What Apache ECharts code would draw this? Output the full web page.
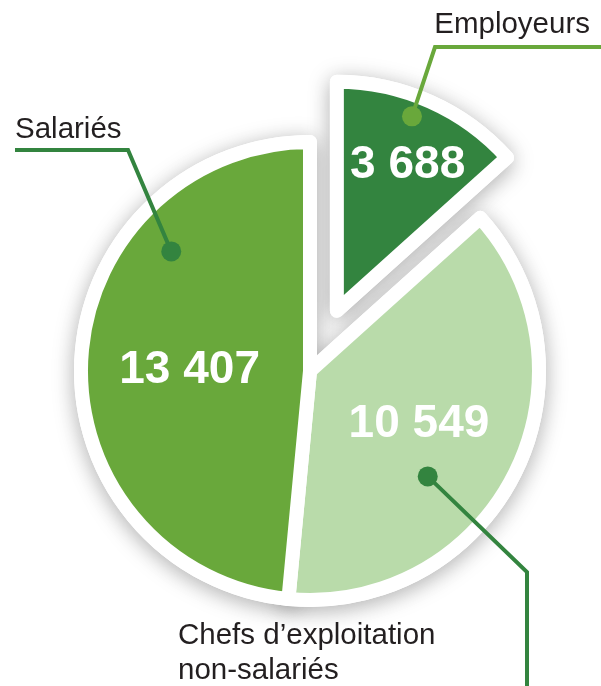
<!DOCTYPE html>
<html>
<head>
<meta charset="utf-8">
<script src="https://cdn.jsdelivr.net/npm/echarts@6/dist/echarts.min.js"></script>
<style>
  html, body { margin: 0; padding: 0; background: #fff; }
  #chart { width: 601px; height: 686px; }
</style>
</head>
<body>
<div id="chart"></div>
<script>
// data
const categories = ['Employeurs', 'Chefs d’exploitation\nnon-salariés', 'Salariés'];
const values = [3688, 10549, 13407];
const valueLabels = ['3 688', '10 549', '13 407'];

// styling
const colors = ['#33843f', '#b9dbaa', '#69a83b'];
const lineColors = ['#69a83b', '#33843f', '#33843f'];
const CX = 310, CY = 371, R = 229, OFFSET = 66;
const FONT = '"Liberation Sans", Arial, Helvetica, sans-serif';
const valueOffsets = [[23, -38], [4, 0], [-3, 5]];

// callouts: dot at fraction t of the slice sweep and k of the radius
const callouts = [
  { t: 0.44, k: 0.91, elbow: [435, 47], end: [601, 47], text: [590, 25], align: 'right', va: 'middle' },
  { t: 0.61, k: 0.69, elbow: [527, 572], end: [527, 690], text: [178, 618], align: 'left', va: 'top' },
  { t: 0.718, k: 0.80, elbow: [128, 150], end: [15, 150], text: [15, 130], align: 'left', va: 'middle' }
];

const chart = echarts.init(document.getElementById('chart'));

const total = values.reduce((a, b) => a + b, 0);
const rad = d => d * Math.PI / 180;

// slice geometry (degrees clockwise from 12 o'clock), same as the pie below
let acc = 0;
const slices = values.map((v, i) => {
  const sweep = v / total * 360;
  const s = { a0: acc, sweep: sweep, mid: acc + sweep / 2 };
  acc += sweep;
  return s;
});

const graphics = [];
callouts.forEach((c, i) => {
  const s = slices[i];
  let ox = CX, oy = CY;
  if (i === 0) {
    ox += OFFSET * Math.sin(rad(s.mid));
    oy -= OFFSET * Math.cos(rad(s.mid));
  }
  const th = rad(s.a0 + c.t * s.sweep);
  const dx = ox + c.k * R * Math.sin(th);
  const dy = oy - c.k * R * Math.cos(th);
  graphics.push({
    type: 'polyline',
    z: 100,
    shape: { points: [[dx, dy], c.elbow, c.end] },
    style: { stroke: lineColors[i], lineWidth: 4, fill: null, lineJoin: 'miter' }
  });
  graphics.push({
    type: 'circle',
    z: 101,
    shape: { cx: dx, cy: dy, r: 10 },
    style: { fill: lineColors[i] }
  });
  graphics.push({
    type: 'text',
    z: 101,
    x: c.text[0],
    y: c.text[1],
    style: {
      text: categories[i],
      font: '29.5px ' + FONT,
      fill: '#231f20',
      align: c.align,
      verticalAlign: c.va,
      lineHeight: 35
    }
  });
});

const pieBase = {
  type: 'pie',
  center: [CX, CY],
  radius: R,
  startAngle: 90,
  clockwise: true,
  selectedMode: 'single',
  selectedOffset: OFFSET,
  silent: true,
  emphasis: { disabled: true },
  labelLine: { show: false }
};

chart.setOption({
  backgroundColor: '#fff',
  animation: false,
  graphic: graphics,
  series: [
    // white underlay that carries the drop shadow
    Object.assign({}, pieBase, {
      z: 1,
      itemStyle: {
        color: '#fff',
        borderColor: '#fff',
        borderWidth: 14,
        shadowBlur: 22,
        shadowColor: 'rgba(0,0,0,0.25)',
        shadowOffsetY: 4
      },
      label: { show: false },
      data: values.map((v, i) => ({ name: categories[i], value: v, selected: i === 0 }))
    }),
    Object.assign({}, pieBase, {
      z: 2,
      itemStyle: { borderColor: '#fff', borderWidth: 14 },
      label: {
        show: true,
        position: 'inside',
        color: '#fff',
        fontFamily: FONT,
        fontWeight: 'bold',
        fontSize: 46,
        formatter: p => valueLabels[p.dataIndex]
      },
      labelLayout: p => ({ dx: valueOffsets[p.dataIndex][0], dy: valueOffsets[p.dataIndex][1] }),
      data: values.map((v, i) => ({
        name: categories[i],
        value: v,
        selected: i === 0,
        itemStyle: { color: colors[i] }
      }))
    })
  ]
});
</script>
</body>
</html>
